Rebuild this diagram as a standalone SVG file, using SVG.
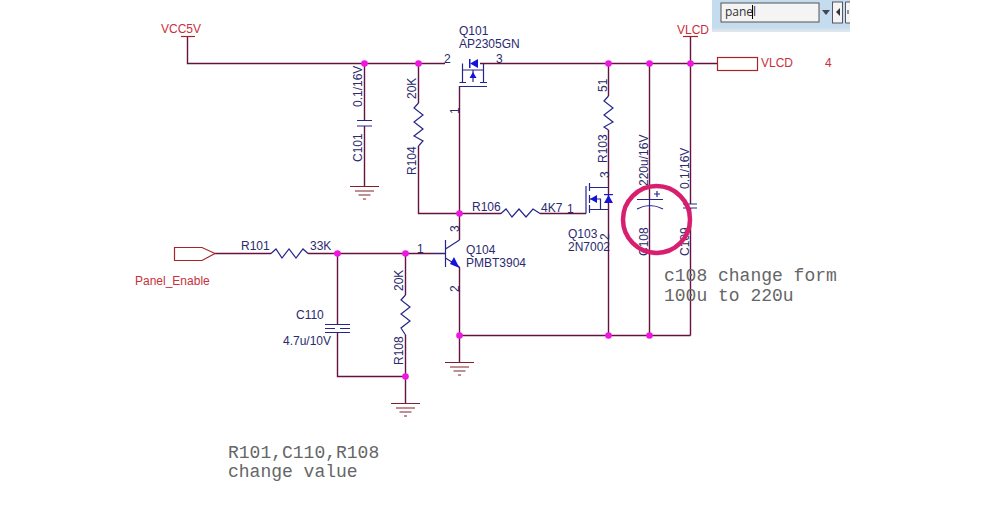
<svg xmlns="http://www.w3.org/2000/svg" width="996" height="514" viewBox="0 0 996 514">
<style>
text{font-family:"Liberation Sans",Arial,sans-serif;font-size:12px;fill:#2a2a6e}
.r{fill:#c8303c}
.m{font-family:"Liberation Mono","Courier New",monospace;font-size:18px;fill:#666}
.w{fill:none;stroke:#641240;stroke-width:1.4}
.wr{fill:none;stroke:#a8242c;stroke-width:1.2}
.g{fill:none;stroke:#80202c;stroke-width:1.2}
.b{fill:none;stroke:#26268a;stroke-width:1.2}
.f{fill:#1414d8;stroke:none}
.j{fill:#f015e0;stroke:none}
</style>
<defs>
<g id="gnd" class="g"><path d="M-14.500 0H14.500M-9.500 4.500H9.500M-6 8.500H6M-1.500 12.500H1.500"/></g>
<linearGradient id="bar" x1="0" y1="0" x2="0" y2="1"><stop offset="0" stop-color="#c5dcee"/><stop offset="0.85" stop-color="#c5dcee"/><stop offset="1" stop-color="#e4e8ec"/></linearGradient>
</defs>
<rect width="996" height="514" fill="#fff"/>
<g id="connectors">
<path class="w" d="M187.500 36.500V63.500H445M480 63.500H717"/>
<path class="w" d="M364.500 63.500V120M364.500 126V186"/>
<path class="w" d="M418.500 63.500V103M418.500 146V213.500H501M540 213.500H586"/>
<path class="w" d="M459.500 86V240M459.500 267V335.500"/>
<path class="w" d="M608.500 63.500V96M608.500 130V335.500"/>
<path class="w" d="M649.500 63.500V199M649.500 208V335.500"/>
<path class="w" d="M690.500 36.500V204M690.500 208V335.500"/>
<path class="w" d="M459.500 335.500H690.500M459.500 335.500V362"/>
<path class="w" d="M215 253.500H271M308 253.500H445"/>
<path class="w" d="M337.500 253.500V324M337.500 333V376.500H405.500"/>
<path class="w" d="M405.500 253.500V295M405.500 335V403"/>
</g>
<g id="VCC5V"><path class="wr" d="M181 36.500H195"/><text class="r" x="161" y="33">VCC5V</text></g>
<g id="VLCD_power"><path class="wr" d="M683 36.500H698"/><text class="r" x="677" y="34">VLCD</text></g>
<g id="VLCD_port"><rect class="wr" x="717.500" y="57.500" width="40" height="13"/><text class="r" x="761" y="67">VLCD</text><text class="r" x="825" y="67">4</text></g>
<g id="Panel_Enable"><path class="wr" d="M174.500 247.500H202L215 253.500L202 260.500H174.500Z"/><text class="r" x="135" y="285">Panel_Enable</text></g>
<g id="C101"><path class="b" d="M357 120.500H372M357 126H372"/><text transform="translate(362 107) rotate(-90)">0.1/16V</text><text transform="translate(362 162) rotate(-90)">C101</text><use href="#gnd" x="364.500" y="186.500"/></g>
<g id="R104"><path class="b" d="M418.500 103L414 108L423 115L414 122L423 129L414 136L423 141L418.500 146"/><text transform="translate(416 99) rotate(-90)">20K</text><text transform="translate(416 175) rotate(-90)">R104</text></g>
<g id="Q101">
<path class="b" d="M462.500 63.500V82M483.500 63.500V82M459.500 82.500H466M480 82.500H487M462.500 70H483.500M473 70V82M459.500 86.500H487"/>
<path class="f" d="M478 59V68L470 63.500Z"/><rect class="f" x="469" y="59" width="1.500" height="9"/>
<path class="f" d="M473 72L476.500 78H469.500Z"/>
<text x="459" y="35">Q101</text><text x="459" y="48">AP2305GN</text>
<text x="444" y="63">2</text><text x="496" y="63">3</text>
<text transform="translate(459 114) rotate(-90)">1</text>
</g>
<g id="R103"><path class="b" d="M608.500 96L604 101L613 108L604 115L613 122L604 127L608.500 130"/><text transform="translate(607 92) rotate(-90)">51</text><text transform="translate(607 163) rotate(-90)">R103</text></g>
<g id="Q103">
<path class="b" d="M586 186V213.500M589.500 183V191M589.500 195V203M589.500 205V213M589.500 187.500H608.500M589.500 199H600.500V209.500M589.500 209.500H608.500"/>
<path class="f" d="M590 199L597 195V203Z"/><path class="f" d="M608.500 195L613 203H604Z"/><rect class="f" x="604" y="194" width="9" height="1.200"/>
<text x="568" y="238">Q103</text><text x="568" y="251">2N7002</text>
<text transform="translate(609 178) rotate(-90)">3</text><text transform="translate(609 240) rotate(-90)">2</text>
<text x="567" y="213">1</text>
</g>
<g id="R106"><path class="b" d="M501 213.500L506 209L512 217L519 209L526 217L533 209L540 213.500"/><text x="472" y="211">R106</text><text x="541" y="212">4K7</text></g>
<g id="Q104">
<path class="b" d="M445.500 240V267M433 253.500H445.500M445.500 249L459.500 240M445.500 258L459.500 267"/>
<path class="f" d="M459.500 268L450 264L454 257Z"/>
<text x="466" y="254">Q104</text><text x="466" y="267">PMBT3904</text>
<text x="417" y="253">1</text>
<text transform="translate(459 232) rotate(-90)">3</text><text transform="translate(459 292) rotate(-90)">2</text>
</g>
<g id="R101"><path class="b" d="M271 253.500L276 249L282 258L289 249L296 258L303 249L308 253.500"/><text x="241" y="250">R101</text><text x="310" y="250">33K</text></g>
<g id="C110"><path class="b" d="M325 324.500H350M325 328.500H335M340 328.500H350M325 332.500H350"/><text x="296" y="319">C110</text><text x="283" y="345">4.7u/10V</text></g>
<g id="R108"><path class="b" d="M405.500 295L401 300L410 307L401 314L410 321L401 328L405.500 335"/><text transform="translate(403 291) rotate(-90)">20K</text><text transform="translate(403 365) rotate(-90)">R108</text><use href="#gnd" x="405.500" y="403.500"/></g>
<use id="GND_Q104" href="#gnd" x="459.500" y="362.500"/>
<g id="C108"><path class="b" d="M637 199.500H663M637 209Q650 202 663 209M649.500 199V208M654 194H660M657 191V197"/><text transform="translate(648 186) rotate(-90)">220u/16V</text><text transform="translate(648 256) rotate(-90)">C108</text></g>
<g id="C109"><path class="b" d="M683 204H697M683 208H697"/><text transform="translate(689 189) rotate(-90)">0.1/16V</text><text transform="translate(689 256) rotate(-90)">C109</text></g>
<g id="junctions" class="j">
<circle cx="364.500" cy="63.500" r="3.300"/><circle cx="418.500" cy="63.500" r="3.300"/><circle cx="608.500" cy="63.500" r="3.300"/><circle cx="649.500" cy="63.500" r="3.300"/><circle cx="690.500" cy="63.500" r="3.300"/><circle cx="459.500" cy="213.500" r="3.300"/><circle cx="337.500" cy="253.500" r="3.300"/><circle cx="405.500" cy="253.500" r="3.300"/><circle cx="405.500" cy="376.500" r="3.300"/><circle cx="459.500" cy="335.500" r="3.300"/><circle cx="608.500" cy="335.500" r="3.300"/><circle cx="649.500" cy="335.500" r="3.300"/>
</g>
<circle id="highlight" cx="656.500" cy="219.500" r="33.500" fill="none" stroke="#d81e6e" stroke-width="4.500"/>
<text class="m" x="664" y="281">c108 change form</text>
<text class="m" x="664" y="301">100u to 220u</text>
<text class="m" x="228" y="458">R101,C110,R108</text>
<text class="m" x="228" y="477">change value</text>
<g id="toolbar">
<rect x="712" y="0" width="138" height="32" fill="url(#bar)"/>
<rect x="721" y="3" width="98" height="19" fill="#f4f4f4" stroke="#555" stroke-width="1"/>
<text x="725" y="16" style="font-family:'Open Sans','Liberation Sans',sans-serif;fill:#333">panel</text>
<path d="M752.500 5V19" stroke="#000" fill="none"/>
<path d="M822 10H830L826 15Z" fill="#445"/>
<rect x="832.500" y="2" width="10" height="21" fill="#f4f4f4" stroke="#556"/>
<path d="M840 8V16L836 12Z" fill="#333"/>
<path d="M850 2H845.500V23H850" fill="#f4f4f4" stroke="#556"/>
<path d="M848 10V14" stroke="#333"/>
</g>
</svg>
